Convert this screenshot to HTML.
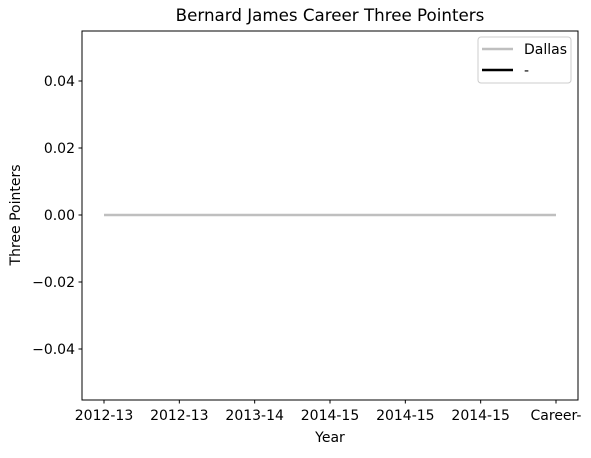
<!DOCTYPE html>
<html><head><meta charset="utf-8"><style>
body{margin:0;background:#fff;}
svg text{font-family:"DejaVu Sans","Liberation Sans",sans-serif;fill:#000;}
</style></head><body>
<svg id="chart" width="591" height="453" xmlns="http://www.w3.org/2000/svg">
<text x="330" y="21" font-size="16.7" text-anchor="middle">Bernard James Career Three Pointers</text>
<rect x="82" y="31" width="496" height="369" fill="none" stroke="#000" stroke-width="1"/>
<g id="yticks"></g><g id="xticks"></g><g id="series"></g>
<text x="330" y="442" font-size="14" text-anchor="middle">Year</text>
<text x="20" y="215" font-size="14" text-anchor="middle" transform="rotate(-90 20 215)">Three Pointers</text>
<g>
<rect x="478" y="37" width="93" height="46" rx="3" fill="#fff" stroke="#ccc"/>
<line x1="482" y1="49" x2="513" y2="49" stroke="#bfbfbf" stroke-width="2.5"/>
<text x="524" y="54" font-size="14">Dallas</text>
<line x1="482" y1="70" x2="513" y2="70" stroke="#000" stroke-width="2.5"/>
<text x="524" y="75" font-size="14">-</text>
</g>
</svg>
<script>
const categories=["2012-13","2012-13","2013-14","2014-15","2014-15","2014-15","Career-"];
const dallasValues=[0,0,0,0,0,0,0];
const yTicks=[-0.04,-0.02,0.00,0.02,0.04];
const yTickLabels=["\u22120.04","\u22120.02","0.00","0.02","0.04"];
const NS="http://www.w3.org/2000/svg";
function xs(i){return 104+i*(556-104)/(categories.length-1);}
function ys(v){return 215-v*3350;}
function mk(tag,attrs,parent){const e=document.createElementNS(NS,tag);for(const k in attrs)e.setAttribute(k,attrs[k]);document.getElementById(parent).appendChild(e);return e;}
yTicks.forEach((v,i)=>{
 const l=mk('line',{x1:78.5,x2:82,y1:ys(v),y2:ys(v),stroke:'#000'},'yticks');
 
 
 const t=mk('text',{x:75,y:ys(v)+5,'font-size':14,'text-anchor':'end'},'yticks');
 t.textContent=yTickLabels[i];
 
 
});
categories.forEach((c,i)=>{
 const l=mk('line',{x1:xs(i),x2:xs(i),y1:400,y2:403.5,stroke:'#000'},'xticks');
 
 
 const t=mk('text',{x:xs(i),y:420,'font-size':14,'text-anchor':'middle'},'xticks');
 t.textContent=c;
 
 
});
const p=mk('polyline',{points:dallasValues.map((v,i)=>xs(i)+','+ys(v)).join(' '),fill:'none',stroke:'#bfbfbf','stroke-width':2.5},'series');


</script>
</body></html>
